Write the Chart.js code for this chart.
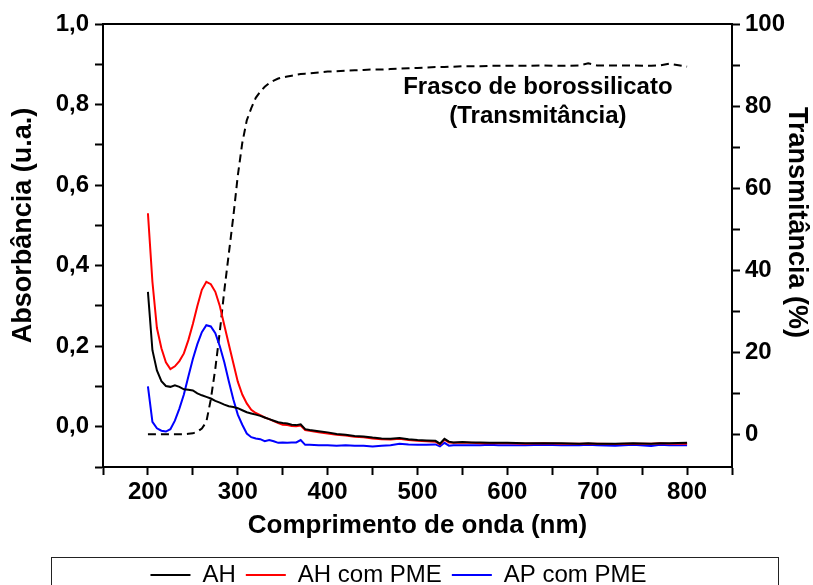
<!DOCTYPE html>
<html lang="pt">
<head>
<meta charset="utf-8">
<script src="https://cdn.jsdelivr.net/npm/chart.js@4.4.1/dist/chart.umd.min.js"></script>
<style>
  html, body { margin: 0; padding: 0; background: #fff; }
</style>
</head>
<body>
<canvas id="uvChart" width="813" height="585"></canvas>
<script>
Chart.defaults.font.family = '"Liberation Sans", Arial, sans-serif';
Chart.defaults.color = '#000';

// comprimento de onda (nm)
const wavelength = [
    200, 205, 210, 215, 220, 225, 230, 235, 240, 245,
    250, 255, 260, 265, 270, 275, 280, 285, 290, 295,
    300, 305, 310, 315, 320, 325, 330, 335, 340, 345,
    350, 355, 360, 365, 370, 375, 380,
    390, 400, 410, 420, 430, 440, 450, 460, 470, 480, 490, 500, 510, 520,
    525, 530, 535, 540,
    550, 560, 570, 580, 590, 600,
    620, 640, 660, 680, 690, 700,
    720, 740, 760, 770, 780, 800
];

// absorbância (u.a.)
const absAH = [
    0.335, 0.190, 0.140, 0.113, 0.101, 0.099, 0.103, 0.099, 0.093, 0.092,
    0.090, 0.083, 0.078, 0.074, 0.070, 0.064, 0.060, 0.055, 0.051, 0.049,
    0.046, 0.041, 0.036, 0.033, 0.030, 0.027, 0.023, 0.019, 0.015, 0.011,
    0.009, 0.008, 0.005, 0.004, 0.006, -0.006, -0.008,
    -0.011, -0.014, -0.018, -0.020, -0.023, -0.024, -0.027, -0.029, -0.030, -0.028, -0.031, -0.033, -0.034, -0.035,
    -0.042, -0.030, -0.037, -0.039,
    -0.038, -0.039, -0.039, -0.040, -0.040, -0.040,
    -0.041, -0.041, -0.041, -0.042, -0.041, -0.042,
    -0.042, -0.041, -0.042, -0.041, -0.041, -0.040
];
const absAHPME = [
    0.530, 0.360, 0.245, 0.195, 0.160, 0.143, 0.150, 0.163, 0.182, 0.215,
    0.255, 0.300, 0.340, 0.360, 0.354, 0.335, 0.300, 0.252, 0.205, 0.158,
    0.112, 0.080, 0.058, 0.042, 0.034, 0.029, 0.023, 0.019, 0.014, 0.009,
    0.005, 0.004, 0.002, 0.001, 0.003, -0.008, -0.010,
    -0.014, -0.017, -0.020, -0.022, -0.025, -0.026, -0.029, -0.031, -0.032, -0.030, -0.033, -0.035, -0.036, -0.037,
    -0.044, -0.032, -0.039, -0.040,
    -0.040, -0.040, -0.041, -0.041, -0.041, -0.041,
    -0.042, -0.041, -0.042, -0.042, -0.042, -0.042,
    -0.043, -0.042, -0.042, -0.041, -0.042, -0.042
];
const absAPPME = [
    0.100, 0.012, -0.004, -0.010, -0.012, -0.006, 0.015, 0.045, 0.080, 0.125,
    0.168, 0.205, 0.235, 0.252, 0.249, 0.232, 0.200, 0.160, 0.113, 0.068,
    0.030, 0.005, -0.017, -0.026, -0.029, -0.031, -0.036, -0.033, -0.036, -0.040,
    -0.039, -0.040, -0.039, -0.039, -0.033, -0.045, -0.045,
    -0.046, -0.046, -0.047, -0.046, -0.047, -0.047, -0.049, -0.047, -0.046, -0.042, -0.044, -0.045, -0.045, -0.044,
    -0.049, -0.040, -0.047, -0.046,
    -0.046, -0.046, -0.046, -0.045, -0.046, -0.046,
    -0.046, -0.045, -0.046, -0.046, -0.045, -0.046,
    -0.047, -0.045, -0.048, -0.045, -0.046, -0.046
];

// transmitância do frasco (%)
const transFrasco = [
    0, 0, 0, 0, 0, 0, 0, 0, 0, 0.1,
    0.2, 0.6, 1.4, 3.0, 8.5, 16, 25, 35, 44, 53,
    63, 71, 76.5, 79.5, 82, 83.5, 84.7, 85.6, 86.2, 86.7,
    87.0, 87.2, 87.4, 87.6, 87.8, 87.9, 88.0,
    88.2, 88.4, 88.5, 88.6, 88.7, 88.8, 88.9, 88.9, 89.0, 89.1, 89.2, 89.3, 89.4, 89.5,
    89.5, 89.5, 89.6, 89.6,
    89.7, 89.7, 89.7, 89.8, 89.8, 89.8,
    89.8, 89.9, 89.8, 89.9, 90.4, 89.9,
    89.9, 89.9, 89.8, 89.9, 90.3, 89.6
];

const seriesNames = ['AH', 'AH com PME', 'AP com PME'];
const seriesColors = ['#000000', '#ff0000', '#0000ff'];
const noteLines = ['Frasco de borossilicato', '(Transmitância)'];

const pairs = ys => wavelength.map((x, i) => ({ x: x, y: ys[i] }));

const axisFont = { size: 24, weight: 'bold' };
const axisGrid = { drawOnChartArea: false, tickLength: 8, tickColor: '#000', tickWidth: 2 };
const axisBorder = { color: '#000', width: 2 };

// titulos dos eixos Y, texto do frasco e moldura da legenda
const extras = {
    id: 'extras',
    afterDraw(chart) {
        const { ctx, chartArea: a, scales } = chart;
        const mid = (a.top + a.bottom) / 2 - 20;
        ctx.save();
        ctx.fillStyle = '#000';
        ctx.textAlign = 'center';
        ctx.textBaseline = 'middle';
        ctx.font = 'bold 27px "Liberation Sans", Arial, sans-serif';

        ctx.save();
        ctx.translate(24, mid);
        ctx.rotate(-Math.PI / 2);
        ctx.fillText('Absorbância (u.a.)', 0, 0);
        ctx.restore();

        ctx.save();
        ctx.translate(796, mid - 3);
        ctx.rotate(Math.PI / 2);
        ctx.fillText('Transmitância (%)', 0, 0);
        ctx.restore();

        ctx.font = 'bold 24px "Liberation Sans", Arial, sans-serif';
        const nx = scales.x.getPixelForValue(634);
        const ny = scales.y2.getPixelForValue(84.6);
        noteLines.forEach((t, i) => ctx.fillText(t, nx, ny + i * 29));

        ctx.strokeStyle = '#222';
        ctx.lineWidth = 1;
        ctx.strokeRect(51.5, 557.5, 727, 60);
        ctx.restore();
    }
};

const absSeries = [absAH, absAHPME, absAPPME];
const datasets = absSeries.map((vals, i) => ({
    label: seriesNames[i],
    data: pairs(vals),
    borderColor: seriesColors[i],
    backgroundColor: seriesColors[i],
    borderWidth: 2,
    pointRadius: 0,
    yAxisID: 'y'
}));
datasets.push({
    label: 'Frasco',
    data: pairs(transFrasco),
    borderColor: '#000',
    borderWidth: 2,
    borderDash: [8, 5],
    pointRadius: 0,
    yAxisID: 'y2'
});

new Chart(document.getElementById('uvChart'), {
    type: 'line',
    data: { datasets: datasets },
    options: {
        responsive: false,
        animation: false,
        // padding direito desloca a legenda; o eixo direito compensa na largura
        layout: { padding: { top: 24, bottom: -12, left: 0, right: 16 } },
        plugins: {
            tooltip: { enabled: false },
            legend: {
                position: 'bottom',
                labels: {
                    filter: item => item.datasetIndex < 3,
                    usePointStyle: true,
                    pointStyle: 'line',
                    pointStyleWidth: 40,
                    padding: 10,
                    color: '#000',
                    font: { size: 24 }
                }
            }
        },
        scales: {
            x: {
                type: 'linear',
                min: 150,
                max: 850,
                afterFit: s => { s.height = 86; },
                ticks: {
                    stepSize: 50,
                    autoSkip: false,
                    maxRotation: 0,
                    padding: 3,
                    font: axisFont,
                    callback: v => (v % 100 === 0 ? v : '')
                },
                grid: axisGrid,
                border: axisBorder,
                title: {
                    display: true,
                    text: 'Comprimento de onda (nm)',
                    font: { size: 26, weight: 'bold' },
                    padding: { top: 0, bottom: 12 }
                }
            },
            xTop: {
                type: 'linear',
                position: 'top',
                min: 150,
                max: 850,
                afterFit: s => { s.height = 0; },
                ticks: { display: false },
                grid: { display: false, drawTicks: false },
                border: axisBorder
            },
            y: {
                type: 'linear',
                position: 'left',
                min: -0.1,
                max: 1.0,
                afterFit: s => { s.width = 103; },
                ticks: {
                    stepSize: 0.1,
                    autoSkip: false,
                    padding: 6,
                    font: axisFont,
                    callback: v => {
                        const k = Math.round(v * 10);
                        return k % 2 === 0 ? (k / 10).toFixed(1).replace('.', ',') : '';
                    }
                },
                grid: axisGrid,
                border: axisBorder
            },
            y2: {
                type: 'linear',
                position: 'right',
                min: -8,
                max: 100,
                afterFit: s => { s.width = 65; },
                ticks: {
                    stepSize: 10,
                    autoSkip: false,
                    padding: 5,
                    font: axisFont,
                    callback: v => (v % 20 === 0 ? v : '')
                },
                grid: Object.assign({}, axisGrid, {
                    tickColor: c => (c.tick && c.tick.value % 10 !== 0 ? 'rgba(0,0,0,0)' : '#000')
                }),
                border: axisBorder
            }
        }
    },
    plugins: [extras]
});
</script>
</body>
</html>
